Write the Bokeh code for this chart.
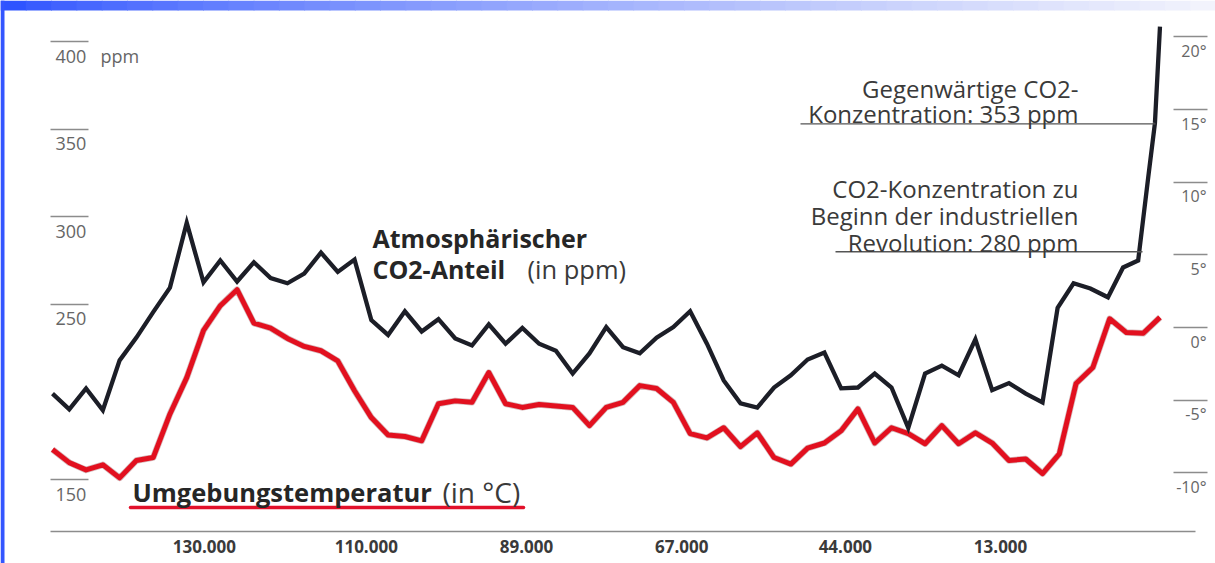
from bokeh.plotting import figure
from bokeh.models import Range1d, LinearAxis, FixedTicker, Label, BoxAnnotation
from bokeh.embed import file_html
from bokeh.resources import INLINE

# ---------------- data ----------------
# x = sample position along the time axis (evenly spaced samples)
co2_x = list(range(60)) + [59.9, 60.85, 61.85, 62.9, 63.8, 64.7, 65.3, 65.7, 66.0]
co2_ppm = [199, 190, 202, 189.5, 218, 231, 245.5, 259.5, 296.5, 262.5,
           275, 263, 274, 265, 262, 267.5, 279.5, 268.5, 275.5, 241,
           232.5, 246, 234.5, 241.5, 230.5, 226.5, 238.5, 227.5, 236.5, 227.5,
           223.5, 210.5, 222, 237, 225.5, 222, 231, 237, 246, 227.5,
           206.5, 193.5, 191, 202.5, 209.5, 218.5, 222.5, 202, 202.5, 210.5,
           202.5, 179.5, 210.5, 215, 209.5, 230, 201, 205, 199, 194,
           248, 262, 259, 254, 271, 275, 322.5, 353.5, 408.5]

temp_x = list(range(67))
temp_c = [-8.4, -9.3, -9.8, -9.45, -10.35, -9.15, -8.95, -5.95, -3.45, -0.2,
          1.5, 2.6, 0.3, -0.05, -0.75, -1.3, -1.6, -2.3, -4.35, -6.2,
          -7.4, -7.5, -7.8, -5.25, -5.05, -5.15, -3.1, -5.25, -5.5, -5.3,
          -5.4, -5.5, -6.75, -5.5, -5.15, -4.0, -4.2, -5.15, -7.3, -7.6,
          -6.9, -8.2, -7.25, -8.95, -9.4, -8.3, -7.95, -7.1, -5.6, -7.95,
          -6.9, -7.3, -8.0, -6.75, -8.0, -7.25, -7.95, -9.15, -9.05, -10.05,
          -8.7, -3.85, -2.75, 0.6, -0.35, -0.4, 0.7]

age_ticks = [9.05, 18.7, 28.25, 37.5, 47.25, 56.5]
age_labels = ["130.000", "110.000", "89.000", "67.000", "44.000", "13.000"]
ppm_ticks = [150, 250, 300, 350, 400]
deg_ticks = [-10, -5, 0, 5, 10, 15, 20]
current_ppm = 353
preindustrial_ppm = 280

# ---------------- ranges (frame covers the whole canvas) ----------------
PX = 16.78                       # pixels per sample step
def ix(px):                      # page pixel -> sample position
    return (px - 52) / PX
def iy(py):                      # page pixel -> ppm
    return 150 + (479 - py) / 1.752
X0, X1 = ix(0), ix(1215)
Y0, Y1 = iy(563), iy(0)
T0, T1 = (327 - 563) / 14.53, 327 / 14.53
PPM_SHIFT = 8.0                  # labels sit 14 px under their tick line
T_SHIFT = 0.964

FONT = "Open Sans"

p = figure(width=1215, height=563, output_backend="svg", toolbar_location=None,
           x_range=Range1d(X0, X1), y_range=Range1d(Y0, Y1),
           x_axis_location="below", y_axis_location=None,
           min_border_left=0, min_border_right=0, min_border_top=0,
           min_border_bottom=0)
p.extra_y_ranges = {
    "temp": Range1d(T0, T1),
    "ppm_lbl": Range1d(Y0 + PPM_SHIFT, Y1 + PPM_SHIFT),
    "temp_lbl": Range1d(T0 + T_SHIFT, T1 + T_SHIFT),
}
p.xgrid.visible = False
p.ygrid.visible = False
p.outline_line_color = None
p.background_fill_color = "#ffffff"
p.border_fill_color = "#ffffff"

# ---------------- slide border (blue) ----------------
n_strip = 48
c0 = (47, 84, 255)
c1 = (242, 243, 252)
for k in range(n_strip):
    f = (k / (n_strip - 1)) ** 0.75
    col = "#%02x%02x%02x" % tuple(int(a + (b - a) * f) for a, b in zip(c0, c1))
    p.add_layout(BoxAnnotation(left=X0 + (X1 - X0) * k / n_strip,
                               right=X0 + (X1 - X0) * (k + 1) / n_strip + 0.05,
                               top=Y1, bottom=iy(10),
                               fill_color=col, fill_alpha=1, line_color=None))
p.add_layout(BoxAnnotation(left=X0, right=ix(4), top=Y1, bottom=Y0,
                           fill_color="#3356ff", fill_alpha=1, line_color=None))

# ---------------- bottom axis (drawn at its place inside the canvas) ----------------
xa = p.xaxis[0]
xa.fixed_location = iy(531)
xa.ticker = FixedTicker(ticks=age_ticks)
xa.major_label_overrides = {t: l for t, l in zip(age_ticks, age_labels)}
xa.bounds = (ix(50), ix(1195))
xa.major_tick_line_color = None
xa.minor_tick_line_color = None
xa.major_tick_in = 0
xa.major_tick_out = 0
xa.axis_line_color = "#8c8c8c"
xa.axis_line_width = 1.5
xa.major_label_standoff = 8
xa.major_label_text_font = FONT
xa.major_label_text_font_style = "bold"
xa.major_label_text_font_size = "17px"
xa.major_label_text_color = "#3a3a3a"

# ---------------- left ppm axis: tick lines ----------------
ax_ppm_ticks = LinearAxis(fixed_location=ix(49.5), ticker=FixedTicker(ticks=ppm_ticks),
                          major_tick_in=0, major_tick_out=38,
                          major_tick_line_color="#8c8c8c", major_tick_line_width=1.5,
                          minor_tick_line_color=None, axis_line_color=None,
                          major_label_text_color=None, major_label_text_alpha=0)
p.add_layout(ax_ppm_ticks, "right")

# left ppm axis: labels under the tick lines
NB = "\u00a0"
ppm_over = {t: str(t) for t in ppm_ticks}
ppm_over[400] = "400" + NB * 3 + "ppm"
ax_ppm_lbl = LinearAxis(y_range_name="ppm_lbl", fixed_location=ix(50),
                        ticker=FixedTicker(ticks=ppm_ticks),
                        major_tick_in=0, major_tick_out=0,
                        major_tick_line_color=None, minor_tick_line_color=None,
                        axis_line_color=None, major_label_standoff=5,
                        major_label_overrides=ppm_over,
                        major_label_text_font=FONT, major_label_text_font_size="18px",
                        major_label_text_color="#666666")
p.add_layout(ax_ppm_lbl, "right")

# ---------------- right temperature axis ----------------
ax_t_ticks = LinearAxis(y_range_name="temp", fixed_location=ix(1207),
                        ticker=FixedTicker(ticks=deg_ticks),
                        major_tick_in=0, major_tick_out=34,
                        major_tick_line_color="#8c8c8c", major_tick_line_width=1.5,
                        minor_tick_line_color=None, axis_line_color=None,
                        major_label_text_color=None, major_label_text_alpha=0)
p.add_layout(ax_t_ticks, "left")

ax_t_lbl = LinearAxis(y_range_name="temp_lbl", fixed_location=ix(1208),
                      ticker=FixedTicker(ticks=deg_ticks),
                      major_tick_in=0, major_tick_out=0,
                      major_tick_line_color=None, minor_tick_line_color=None,
                      axis_line_color=None, major_label_standoff=2,
                      major_label_overrides={t: f"{t}°" for t in deg_ticks},
                      major_label_text_font=FONT, major_label_text_font_size="16px",
                      major_label_text_color="#666666")
p.add_layout(ax_t_lbl, "left")

# ---------------- series ----------------
p.line(temp_x, temp_c, y_range_name="temp", line_width=6.5, line_color="#8a3a40",
       line_alpha=0.35, line_join="round")
p.line(temp_x, temp_c, y_range_name="temp", line_width=5, line_color="#e2101f",
       line_join="round")
p.line(co2_x, co2_ppm, line_width=4.3, line_color="#1c1e27", line_join="miter")

# ---------------- annotations ----------------
p.segment(x0=[ix(800)], y0=[current_ppm], x1=[ix(1155)], y1=[current_ppm],
          line_color="#555555", line_width=1.3)
p.segment(x0=[ix(835)], y0=[preindustrial_ppm], x1=[ix(1142)], y1=[preindustrial_ppm],
          line_color="#555555", line_width=1.3)

def lab(x, y, text, size, bold=False, align="left", color="#3a3a3a"):
    p.add_layout(Label(x=x, y=y, text=text, text_font=FONT, text_font_size=size,
                       text_font_style="bold" if bold else "normal", text_align=align,
                       text_baseline="middle", text_color=color))

RX = ix(1078)
lab(RX, iy(88), "Gegenwärtige CO2-", "24px", align="right")
lab(RX, iy(113), "Konzentration: 353 ppm", "24px", align="right")
lab(RX, iy(188), "CO2-Konzentration zu", "24px", align="right")
lab(RX, iy(215), "Beginn der industriellen", "24px", align="right")
lab(RX, iy(242), "Revolution: 280 ppm", "24px", align="right")

lab(ix(372), iy(237), "Atmosphärischer", "25px", bold=True, color="#262626")
lab(ix(372), iy(268), "CO2-Anteil", "25px", bold=True, color="#262626")
lab(ix(527), iy(268), "(in ppm)", "25.5px", color="#3a3a3a")

lab(ix(132), iy(491), "Umgebungstemperatur", "25.5px", bold=True, color="#262626")
lab(ix(442), iy(491), "(in °C)", "28px", color="#3a3a3a")
p.segment(x0=[ix(130)], y0=[iy(507)], x1=[ix(523)], y1=[iy(507)],
          line_color="#e2102a", line_width=3.5, line_cap="round")

open("out.html", "w").write(file_html(p, INLINE))
